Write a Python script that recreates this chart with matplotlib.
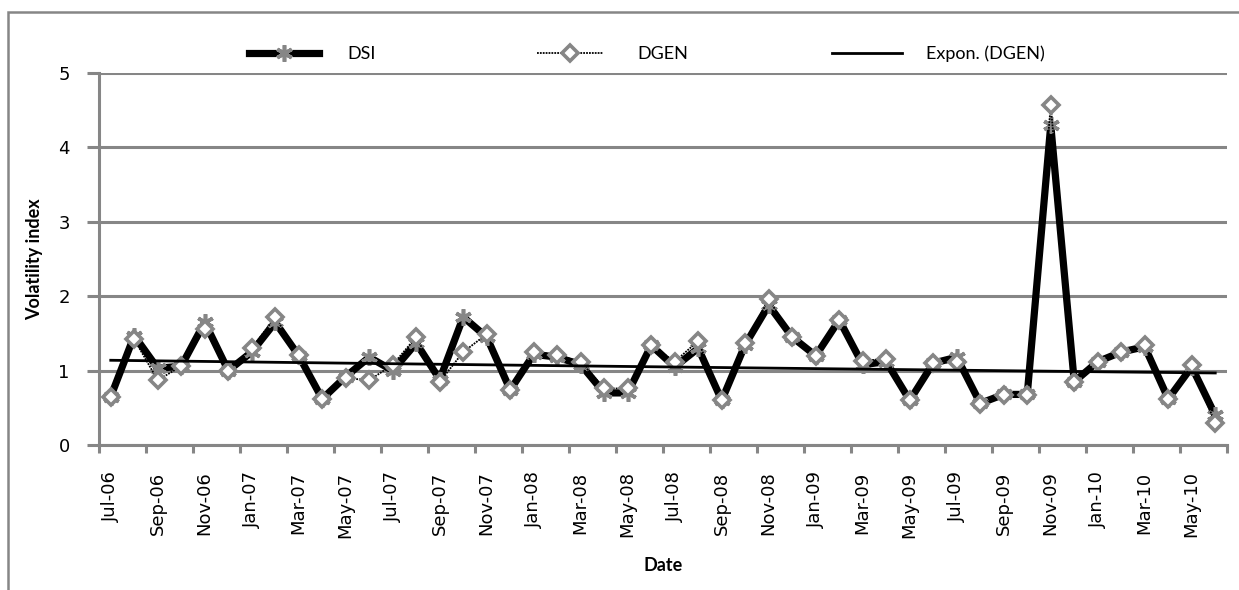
import numpy as np
import pandas as pd
import matplotlib
matplotlib.use("Agg")
import matplotlib.pyplot as plt
from matplotlib.patches import Rectangle

# monthly observations, Jul-06 .. Jun-10
dates = pd.date_range("2006-07-01", periods=48, freq="MS")
dateLabels = [d.strftime("%b-%y") for d in dates]

dsi = [0.65, 1.47, 1.03, 1.06, 1.65, 1.00, 1.25, 1.65, 1.20, 0.62, 0.92, 1.18,
       1.00, 1.37, 0.88, 1.72, 1.45, 0.74, 1.22, 1.18, 1.08, 0.70, 0.70, 1.34,
       1.05, 1.30, 0.60, 1.35, 1.88, 1.45, 1.20, 1.68, 1.08, 1.12, 0.60, 1.10,
       1.18, 0.56, 0.68, 0.68, 4.30, 0.85, 1.12, 1.25, 1.32, 0.62, 1.05, 0.40]

dgen = [0.65, 1.42, 0.87, 1.06, 1.56, 1.00, 1.30, 1.72, 1.21, 0.62, 0.90, 0.87,
        1.08, 1.45, 0.85, 1.25, 1.49, 0.74, 1.25, 1.21, 1.12, 0.76, 0.76, 1.34,
        1.12, 1.40, 0.60, 1.37, 1.96, 1.45, 1.20, 1.68, 1.13, 1.16, 0.60, 1.10,
        1.12, 0.55, 0.67, 0.67, 4.57, 0.85, 1.12, 1.25, 1.34, 0.62, 1.07, 0.29]

GRAY = "#868686"
W, H = 1239, 590


def expTrend(x, y):
    # same as an Excel exponential trendline: y = a * exp(b * x)
    b, lna = np.polyfit(x, np.log(y), 1)
    return np.exp(lna) * np.exp(b * x)


def main():
    x = np.arange(len(dates))
    trend = expTrend(x + 1, np.array(dgen))

    fig = plt.figure(figsize=(W / 100, H / 100), dpi=100)
    ax = fig.add_axes([99 / W, 1 - 445 / H, (1227 - 99) / W, (445 - 73) / H])

    hDsi, = ax.plot(x, dsi, color="black", lw=5.2, marker=(6, 2, 0), ms=12,
                    mec=GRAY, mew=2.6, zorder=3)
    hDgen, = ax.plot(x, dgen, color="black", lw=1.3, ls=(0, (1, 0.6)), marker="D", ms=8,
                     mfc="white", mec=GRAY, mew=2.6, zorder=4)
    hTrend, = ax.plot(x, trend, color="black", lw=2.0, zorder=5)

    ax.set_xlim(-0.5, len(dates) - 0.5)
    ax.set_ylim(0, 5)
    ax.set_yticks([0, 1, 2, 3, 4, 5])
    ax.grid(axis="y", color=GRAY, lw=2.2)
    ax.set_axisbelow(True)

    # ticks on category boundaries, labels on category centres
    ax.set_xticks(np.arange(-0.5, len(dates), 2))
    ax.set_xticklabels([])
    ax.set_xticks(x[::2], minor=True)
    ax.set_xticklabels(dateLabels[::2], minor=True, rotation=90,
                       fontsize=13, family="DejaVu Sans")
    ax.tick_params(axis="x", which="major", length=6, width=2.2, color=GRAY)
    ax.tick_params(axis="x", which="minor", length=0, pad=19)
    ax.tick_params(axis="y", length=9, width=2.2, color=GRAY, labelsize=13, pad=12)

    for side in ["top", "right"]:
        ax.spines[side].set_visible(False)
    for side in ["left", "bottom"]:
        ax.spines[side].set_color(GRAY)
        ax.spines[side].set_linewidth(2.2)

    ax.set_ylabel("Volatility index", fontsize=13, fontweight="bold", family="Lato", labelpad=11)
    ax.set_xlabel("Date", fontsize=13, fontweight="bold", family="Lato", labelpad=14)

    # legend entries placed one by one, like the Excel legend row
    entries = [(hDsi, "DSI", 249, 3.9, 1.55),
               (hDgen, "DGEN", 537, 3.65, 1.9),
               (hTrend, "Expon. (DGEN)", 832, 3.9, 1.3)]
    for handle, label, x0, hlen, hpad in entries:
        fig.legend([handle], [label], loc="center left",
                   bbox_to_anchor=(x0 / W, 1 - 54 / H), frameon=False,
                   prop={"family": "Lato", "size": 13}, handlelength=hlen,
                   handletextpad=hpad, borderpad=0, borderaxespad=0)

    # chart area border
    fig.patches.append(Rectangle((8 / W, -0.05), 1.1, 0.05 + 1 - 12 / H,
                                 transform=fig.transFigure, fill=False,
                                 edgecolor=GRAY, lw=1.8, clip_on=False))

    fig.savefig("out.png", dpi=100)


if __name__ == "__main__":
    main()
